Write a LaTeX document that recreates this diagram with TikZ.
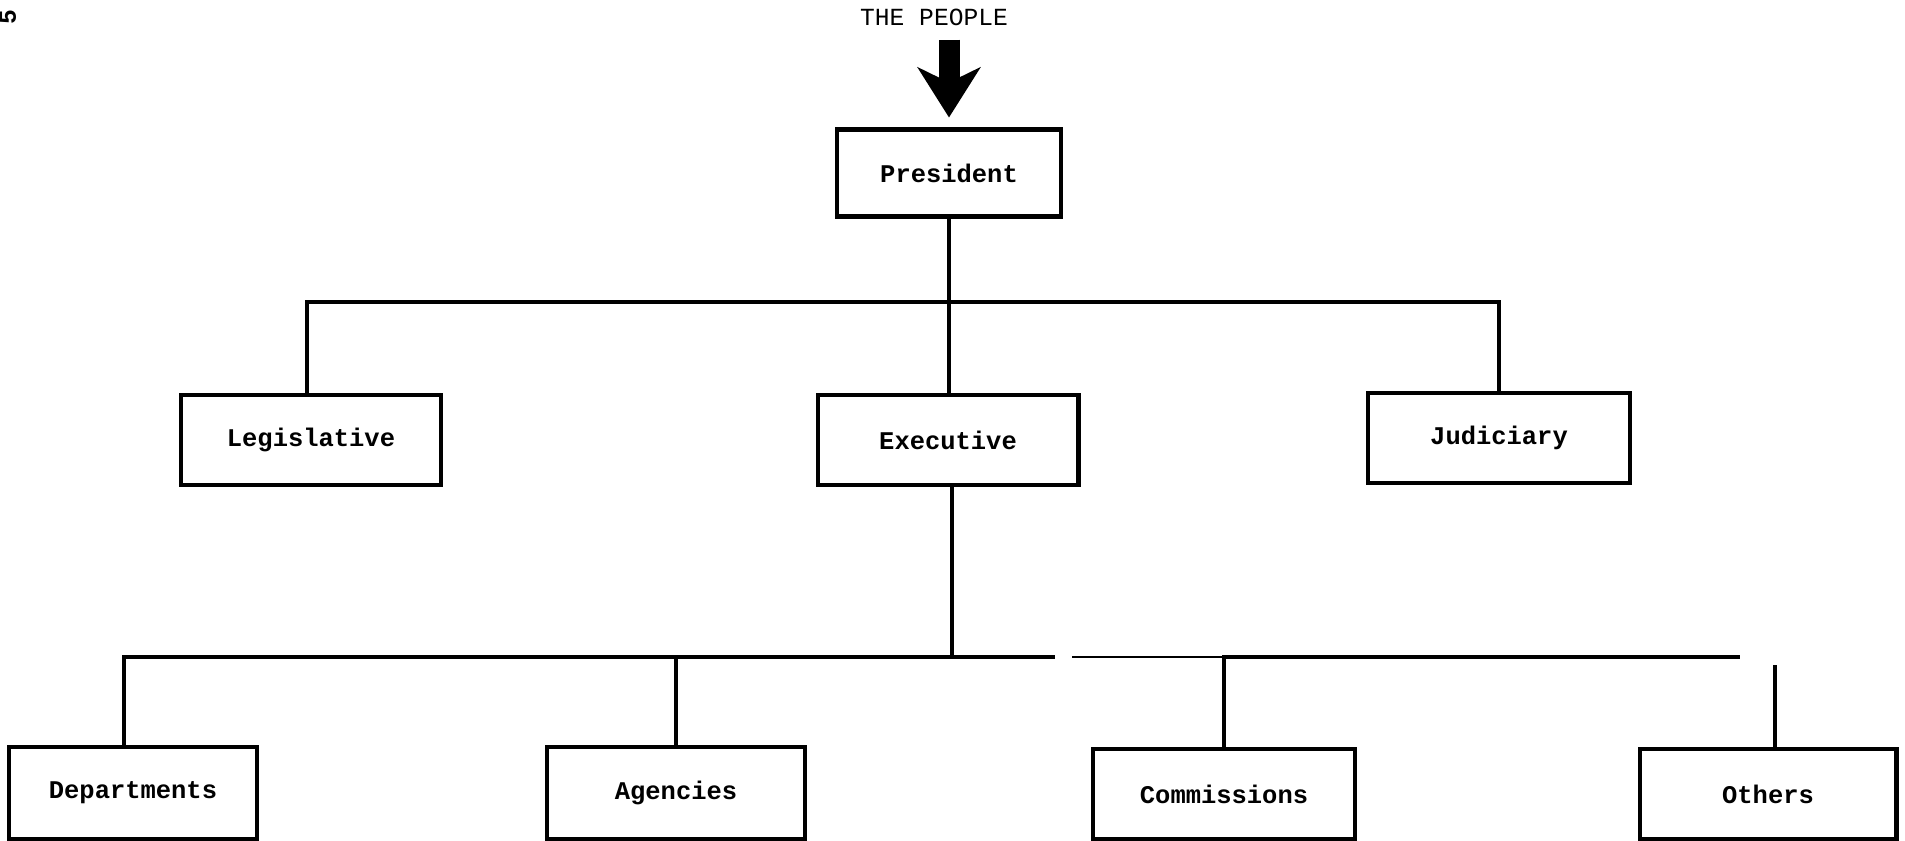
\documentclass[tikz,border=0pt]{standalone}
\usepackage{fontspec}
\setmonofont{Liberation Mono}
\usepackage{tikz}
\usetikzlibrary{arrows.meta}

\tikzset{
  box/.style={draw, line width=2.3pt, minimum width=5.2cm, minimum height=1.8cm,
    inner sep=0pt, font=\ttfamily\bfseries\fontsize{14.5}{16}\selectfont},
  link/.style={line width=2pt},
  barlink/.style={line width=2.4pt},
  thinlink/.style={line width=1.2pt},
  bigarrow/.style={line width=0.42cm, -{Stealth[length=1cm, width=1.25cm, inset=0.3cm]}},
}

\begin{document}
\begin{tikzpicture}[x=0.02cm, y=-0.02cm]
\useasboundingbox (0,0) rectangle (1905,841);
\draw (8,17) node [rotate=90, font=\ttfamily\bfseries\fontsize{14}{16}\selectfont] (page) {5};
\draw (934,17) node [font=\ttfamily\fontsize{14}{16}\selectfont] (people) {THE PEOPLE};
\draw (949,173) node [box, minimum width=4.48cm, minimum height=1.74cm] (pres) {President};
\draw (311,440) node [box] (leg) {Legislative};
\draw (948,440) node [box, minimum width=5.22cm] (exec) {Executive};
\draw (1499,438) node [box, minimum width=5.24cm] (jud) {Judiciary};
\draw (133,793) node [box, minimum width=4.96cm, minimum height=1.84cm] (dept) {Departments};
\draw (676,793) node [box, minimum width=5.16cm, minimum height=1.84cm] (agen) {Agencies};
\draw (1224,794) node [box, minimum width=5.24cm] (comm) {Commissions};
\draw (1768,794) node [box, minimum width=5.14cm] (oth) {Others};
\coordinate (tb) at (949,302);
\coordinate (bl) at (1055,657);
\coordinate (bm) at (1072,657);
\coordinate (br) at (1740,657);
\coordinate (ot) at (1775,665);
% the people
\draw [bigarrow] ([yshift=-0.16cm]people.south -| pres.north) -- ([yshift=0.2cm]pres.north);
% branches
\draw [link] (pres.south) -- (pres.south |- exec.north);
\draw [link] ([xshift=-0.08cm]leg.north) |- (tb) -| (jud.north);
% executive
\draw [link] ([xshift=0.08cm]exec.south) -- ([xshift=0.08cm]exec.south |- bl);
\draw [barlink] ([xshift=-0.18cm]dept.north) |- (bl);
\draw [link] (agen.north) -- (agen.north |- bl);
\draw [barlink] (comm.north) |- (br);
\draw [thinlink] (bm) -- (comm.north |- bm);
\draw [link] (ot) -- (ot |- oth.north);
\end{tikzpicture}
\end{document}
